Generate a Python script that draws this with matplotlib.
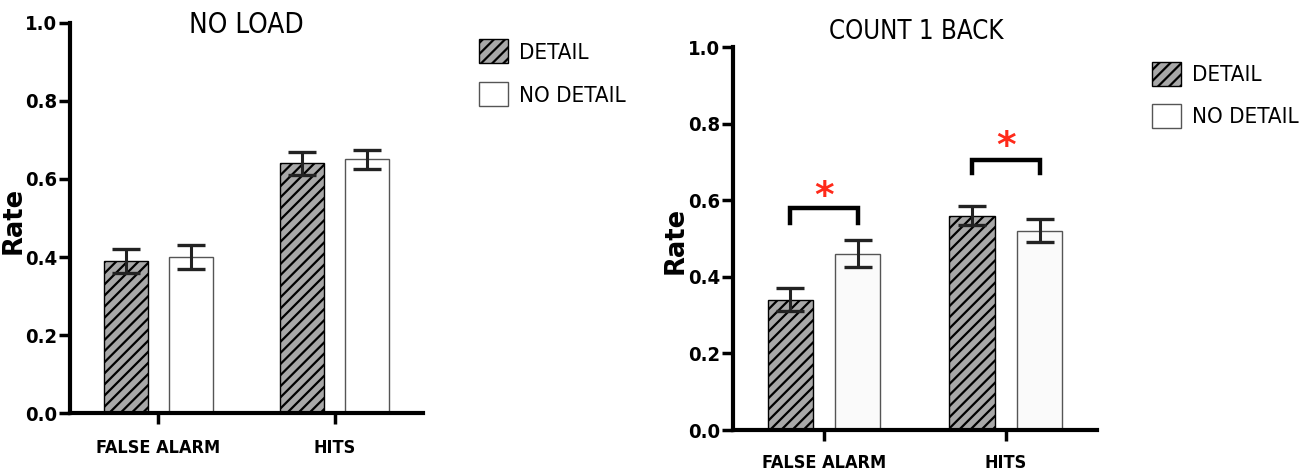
import matplotlib
matplotlib.use("Agg")
import matplotlib.pyplot as plt
import numpy as np
from matplotlib.patches import Patch
from matplotlib.font_manager import FontProperties

categories = ["FALSE ALARM", "HITS"]
series = ["DETAIL", "NO DETAIL"]
titles = ["NO LOAD", "COUNT 1 BACK"]
yticks = [0.0, 0.2, 0.4, 0.6, 0.8, 1.0]

noload_detail = [0.39, 0.64]
noload_nodetail = [0.40, 0.65]
noload_detail_err = [0.03, 0.03]
noload_nodetail_err = [0.03, 0.025]

count_detail = [0.34, 0.56]
count_nodetail = [0.46, 0.52]
count_detail_err = [0.03, 0.025]
count_nodetail_err = [0.035, 0.03]

sig_bracket_y = [0.58, 0.705]
sig_bracket_leg = [0.54, 0.67]
sig_star_y = [0.608, 0.738]

plt.rcParams['hatch.linewidth'] = 1.6

def cfont(size, weight='normal'):
    return FontProperties(family='DejaVu Sans', stretch='condensed', size=size, weight=weight)

fig = plt.figure(figsize=(13.12, 4.75), dpi=100)
axL = fig.add_axes([0.0534, 0.1305, 0.269, 0.8211])
axR = fig.add_axes([0.5587, 0.0947, 0.2773, 0.8063])

panels = [
    (axL, noload_detail, noload_nodetail, noload_detail_err, noload_nodetail_err, 'white'),
    (axR, count_detail, count_nodetail, count_detail_err, count_nodetail_err, '#fafafa'),
]
title_pos = [(0.5, 0.995), (0.503, 1.04)]
title_size = [20, 18.5]
x = np.arange(len(categories))
w = 0.25
off = 0.185
for i, (ax, d, nd, de, nde, ndcol) in enumerate(panels):
    ax.bar(x - off, d, w, color='#a8a8a8', edgecolor='black', hatch='///', linewidth=1.0)
    ax.bar(x + off, nd, w, color=ndcol, edgecolor='#555555', linewidth=1.0)
    ax.errorbar(x - off, d, yerr=de, fmt='none', ecolor='#222222', elinewidth=2.2, capsize=10, capthick=2.4)
    ax.errorbar(x + off, nd, yerr=nde, fmt='none', ecolor='#222222', elinewidth=2.2, capsize=10, capthick=2.4)
    ax.set_xlim(-0.5, 1.5)
    ax.set_ylim(0, 1.0)
    ax.set_yticks(yticks)
    ax.set_yticklabels([f"{t:.1f}" for t in yticks], fontproperties=cfont(14.5, 'bold'))
    ax.set_xticks(x)
    ax.set_xticklabels(categories, fontproperties=cfont(13, 'bold'))
    for s in ['top', 'right']:
        ax.spines[s].set_visible(False)
    for s in ['left', 'bottom']:
        ax.spines[s].set_linewidth(3)
    ax.tick_params(axis='both', width=2.5, length=8, direction='out')
    ax.tick_params(axis='y', pad=1)
    ax.tick_params(axis='x', pad=11 if i == 0 else 9)
    ax.set_ylabel("Rate", fontsize=18.5, fontweight='bold', family='DejaVu Sans')
    ax.yaxis.set_label_coords(-0.123, 0.495)
    ax.text(title_pos[i][0], title_pos[i][1], titles[i], transform=ax.transAxes,
            fontproperties=cfont(title_size[i]), ha='center', va='center')

# significance brackets on right panel
for j in range(len(categories)):
    x0 = x[j] - off
    x1 = x[j] + off
    axR.plot([x0, x0, x1, x1], [sig_bracket_leg[j], sig_bracket_y[j], sig_bracket_y[j], sig_bracket_leg[j]],
             color='black', linewidth=3.2, solid_joinstyle='miter')
    axR.text(x[j], sig_star_y[j], '*', color='#ff2a1a', fontsize=27, ha='center', va='center',
             fontweight='bold')

handles = [Patch(facecolor='#a8a8a8', edgecolor='black', hatch='///', linewidth=1.0),
           Patch(facecolor='white', edgecolor='#555555', linewidth=1.0)]
fig.legend(handles, series, loc='upper left', bbox_to_anchor=(0.350, 0.96), frameon=False,
           prop=cfont(16), handlelength=1.3, handleheight=1.3, labelspacing=0.85,
           handletextpad=0.5)
fig.legend(handles, series, loc='upper left', bbox_to_anchor=(0.863, 0.912), frameon=False,
           prop=cfont(16), handlelength=1.3, handleheight=1.3, labelspacing=0.8,
           handletextpad=0.5)

fig.savefig("out.png", dpi=100)
